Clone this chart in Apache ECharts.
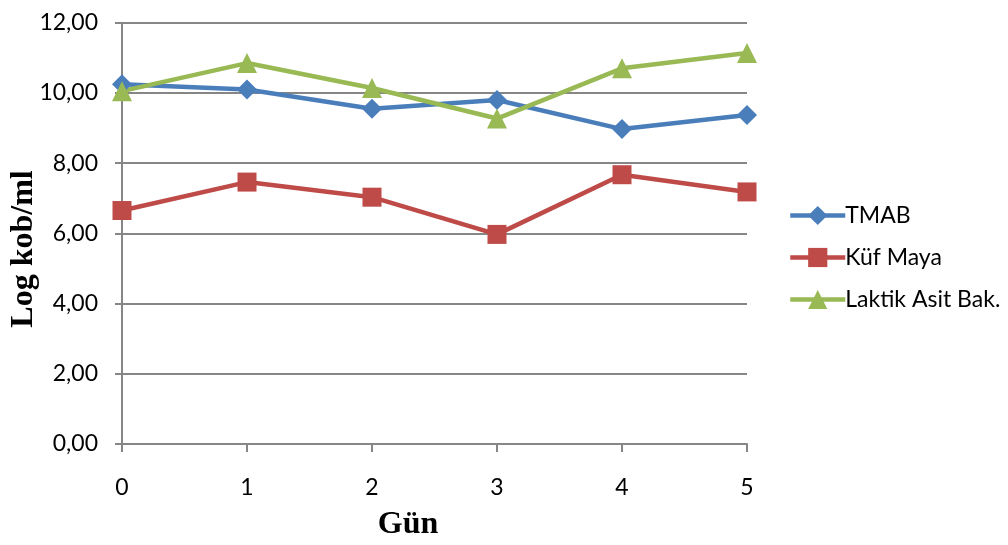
<!DOCTYPE html>
<html>
<head>
<meta charset="utf-8">
<script src="https://cdn.jsdelivr.net/npm/echarts@6/dist/echarts.min.js"></script>
<style>
  html, body { margin: 0; padding: 0; background: #fff; }
  #chart { width: 1008px; height: 545px; }
</style>
</head>
<body>
<div id="chart"></div>
<script>
// Sampling days
const days = ['0', '1', '2', '3', '4', '5'];

// Counts per group (log kob/ml)
const tmab = [10.25, 10.10, 9.55, 9.80, 8.97, 9.37];
const kufMaya = [6.65, 7.46, 7.03, 5.97, 7.67, 7.18];
const laktikAsit = [10.05, 10.85, 10.14, 9.27, 10.70, 11.14];

const seriesNames = ['TMAB', 'Küf Maya', 'Laktik Asit Bak.'];

// Value axis range
const yMin = 0, yMax = 12, yStep = 2;

const colors = ['#4A7EBB', '#BE4B48', '#98B954'];
const labelFont = 'Lato, "Open Sans", sans-serif';
const titleFont = '"Liberation Serif", "DejaVu Serif", serif';

const chart = echarts.init(document.getElementById('chart'));

function lineSeries(name, data, symbol, size, color) {
  return {
    name: name,
    type: 'line',
    data: data,
    symbol: symbol,
    symbolSize: size,
    color: color,
    lineStyle: { width: 4.5, color: color },
    itemStyle: { color: color },
    emphasis: { disabled: true },
    animation: false
  };
}

chart.setOption({
  animation: false,
  backgroundColor: '#ffffff',
  grid: { left: 122, right: 261, top: 22.7, bottom: 101, containLabel: false },
  legend: {
    orient: 'vertical',
    left: 783,
    top: 199,
    itemWidth: 55,
    itemHeight: 24,
    itemGap: 19,
    lineStyle: { width: 4.5 },
    textStyle: { fontFamily: labelFont, fontSize: 23, lineHeight: 22, color: '#000', padding: [0, 0, 0, -5] },
    data: seriesNames
  },
  xAxis: {
    type: 'category',
    data: days,
    boundaryGap: false,
    axisLine: { lineStyle: { color: '#868686', width: 2 } },
    axisTick: { show: true, alignWithLabel: true, length: 8, lineStyle: { color: '#868686', width: 2 } },
    axisLabel: { margin: 32, fontFamily: labelFont, fontSize: 23, color: '#000' },
    splitLine: { show: false }
  },
  yAxis: {
    type: 'value',
    min: yMin,
    max: yMax,
    interval: yStep,
    axisLine: { show: true, lineStyle: { color: '#868686', width: 2 } },
    axisTick: { show: true, length: 7, lineStyle: { color: '#868686', width: 2 } },
    axisLabel: {
      margin: 24,
      fontFamily: labelFont,
      fontSize: 23,
      color: '#000',
      formatter: v => v.toFixed(2).replace('.', ',')
    },
    splitLine: { lineStyle: { color: '#868686', width: 2 } }
  },
  graphic: [
    {
      type: 'text',
      x: 408,
      y: 525,
      style: { text: 'Gün', font: 'bold 32px ' + titleFont, fill: '#000', align: 'center', verticalAlign: 'middle' }
    },
    {
      type: 'text',
      x: 24,
      y: 249,
      rotation: Math.PI / 2,
      style: { text: 'Log kob/ml', font: 'bold 32px ' + titleFont, fill: '#000', align: 'center', verticalAlign: 'middle' }
    }
  ],
  series: [
    lineSeries(seriesNames[0], tmab, 'diamond', 20, colors[0]),
    lineSeries(seriesNames[1], kufMaya, 'rect', 19, colors[1]),
    lineSeries(seriesNames[2], laktikAsit, 'triangle', 20, colors[2])
  ]
});
</script>
</body>
</html>
